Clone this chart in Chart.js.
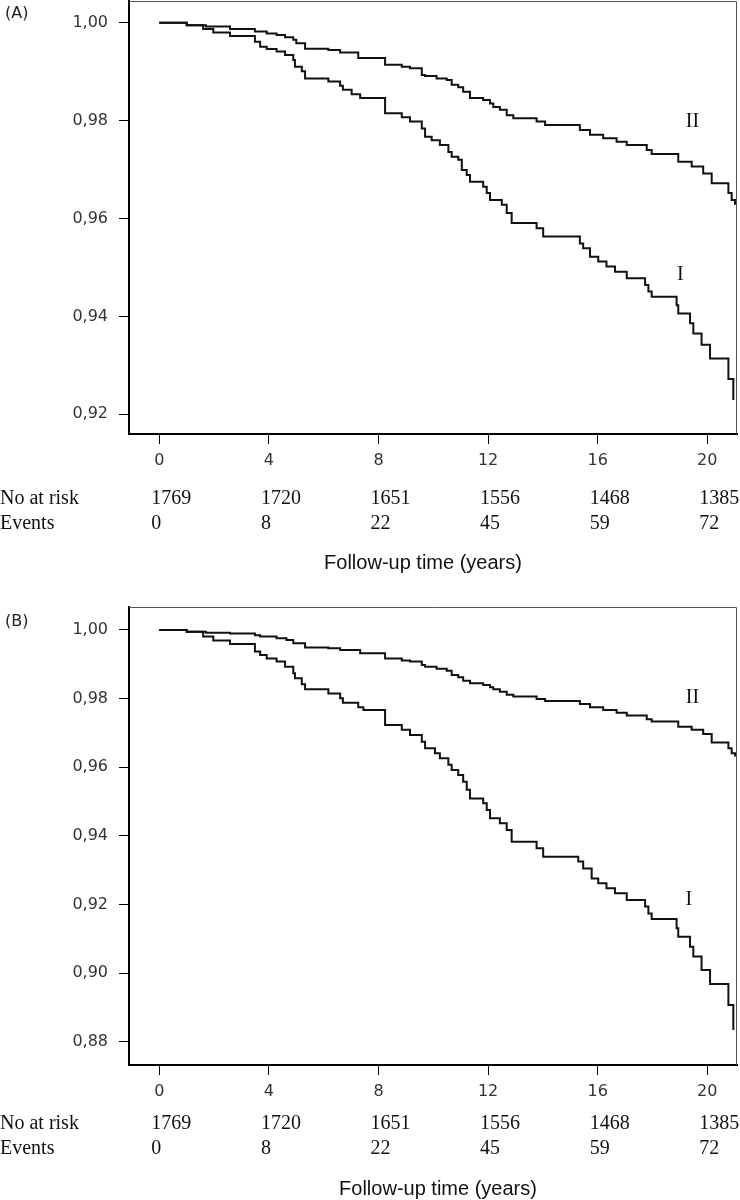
<!DOCTYPE html>
<html>
<head>
<meta charset="utf-8">
<script src="https://cdn.jsdelivr.net/npm/chart.js@4.4.1/dist/chart.umd.min.js"></script>
<style>
  body { margin: 0; background: #fff; }
  #wrap { width: 740px; height: 1200px; position: relative; }
  canvas { display: block; }
</style>
</head>
<body>
<div id="wrap">
  <canvas id="chartA" width="740" height="600"></canvas>
  <canvas id="chartB" width="740" height="600"></canvas>
</div>
<script>
// shared axis / table values
const xTicks = [0, 4, 8, 12, 16, 20];
const yTicksA = [0.92, 0.94, 0.96, 0.98, 1.00];
const yTicksB = [0.88, 0.90, 0.92, 0.94, 0.96, 0.98, 1.00];
const atRisk = [1769, 1720, 1651, 1556, 1468, 1385];
const events = [0, 8, 22, 45, 59, 72];

// (A) curve I - event times (years) and survival after each step
const timeA_I = [0, 1.0, 1.6, 1.97, 2.58, 3.49, 3.68, 3.92, 4.28, 4.59, 4.89, 4.95, 5.2, 5.32, 6.17, 6.6, 6.7, 7.02, 7.33, 8.24,
  8.85, 9.15, 9.58, 9.70, 9.94, 10.24, 10.55, 10.67, 10.91, 11.04, 11.22, 11.34, 11.82, 11.95, 12.07, 12.5, 12.68, 12.86, 13.77, 14.01,
  15.35, 15.47, 15.72, 16.02, 16.32, 16.63, 17.06, 17.73, 17.85, 17.97, 18.88, 18.94, 19.37, 19.49, 19.79, 20.1, 20.77, 20.95];
const survA_I = [1.0, 0.9995, 0.9987, 0.9980, 0.9973, 0.9961, 0.9951, 0.9946, 0.9941, 0.9934, 0.9924, 0.9910, 0.9901, 0.9886, 0.9880, 0.9871, 0.9863, 0.9854, 0.9846, 0.9815,
  0.9807, 0.9798, 0.9784, 0.9767, 0.9760, 0.9750, 0.9736, 0.9726, 0.9720, 0.9699, 0.9689, 0.9675, 0.9665, 0.9652, 0.9638, 0.9628, 0.9611, 0.9591, 0.9580, 0.9563,
  0.9549, 0.9539, 0.9522, 0.9512, 0.9502, 0.9491, 0.9478, 0.9464, 0.9451, 0.9440, 0.9423, 0.9406, 0.9386, 0.9365, 0.9342, 0.9314, 0.9272, 0.9229];

// (A) curve II
const timeA_II = [0, 1.0, 1.7, 2.58, 3.49, 3.92, 4.28, 4.59, 4.89, 5.0, 5.32, 6.17, 6.6, 7.26, 8.24, 8.85, 9.15, 9.58, 9.70, 10.12,
  10.49, 10.67, 10.91, 11.09, 11.34, 11.82, 12.07, 12.19, 12.43, 12.68, 12.92, 13.77, 14.08, 15.35, 15.72, 16.2, 16.69, 17.06, 17.79, 17.97,
  18.94, 19.43, 19.85, 20.16, 20.77, 20.89, 21.01];
const survA_II = [1.0, 0.9995, 0.9992, 0.9987, 0.9982, 0.9978, 0.9975, 0.9970, 0.9965, 0.9958, 0.9947, 0.9944, 0.9939, 0.9928, 0.9914, 0.9910, 0.9907, 0.9893, 0.9891, 0.9886,
  0.9883, 0.9873, 0.9868, 0.9859, 0.9846, 0.9842, 0.9835, 0.9828, 0.9822, 0.9811, 0.9805, 0.9798, 0.9791, 0.9781, 0.9771, 0.9764, 0.9757, 0.9750, 0.9740, 0.9732,
  0.9716, 0.9706, 0.9692, 0.9672, 0.9652, 0.9638, 0.9628];

// (B) curve I
const timeB_I = [0, 1.0, 1.6, 1.97, 2.58, 3.49, 3.68, 3.92, 4.28, 4.59, 4.89, 4.95, 5.2, 5.32, 6.17, 6.6, 6.7, 7.26, 7.45, 8.24,
  8.85, 9.15, 9.58, 9.70, 10.06, 10.24, 10.55, 10.67, 10.91, 11.09, 11.22, 11.34, 11.82, 11.95, 12.07, 12.43, 12.68, 12.86, 13.77, 14.01,
  15.29, 15.47, 15.78, 16.02, 16.32, 16.63, 17.06, 17.73, 17.85, 17.97, 18.88, 18.94, 19.37, 19.49, 19.79, 20.1, 20.77, 20.95];
const survB_I = [1.0, 0.9995, 0.9981, 0.9969, 0.9959, 0.9937, 0.9927, 0.9917, 0.9908, 0.9893, 0.9874, 0.9859, 0.9842, 0.9827, 0.9815, 0.9801, 0.9788, 0.9775, 0.9767, 0.9723,
  0.9709, 0.9694, 0.9674, 0.9655, 0.9641, 0.9626, 0.9607, 0.9592, 0.9577, 0.9558, 0.9534, 0.9509, 0.9495, 0.9475, 0.9451, 0.9437, 0.9417, 0.9383, 0.9364, 0.9339,
  0.9325, 0.9305, 0.9276, 0.9262, 0.9247, 0.9233, 0.9213, 0.9194, 0.9174, 0.9158, 0.9131, 0.9106, 0.9077, 0.9048, 0.9009, 0.8968, 0.8907, 0.8834];

// (B) curve II
const timeB_II = [0, 1.0, 1.7, 2.58, 3.49, 3.68, 4.28, 4.64, 4.89, 5.32, 6.17, 6.6, 7.33, 8.24, 8.85, 9.15, 9.58, 9.70, 10.12, 10.49,
  10.67, 10.91, 11.09, 11.34, 11.82, 12.07, 12.19, 12.43, 12.68, 12.92, 13.77, 14.08, 15.35, 15.72, 16.2, 16.69, 17.06, 17.79, 17.97, 18.94,
  19.43, 19.85, 20.16, 20.77, 20.89, 21.01];
const survB_II = [1.0, 0.9995, 0.9992, 0.9990, 0.9985, 0.9981, 0.9976, 0.9971, 0.9961, 0.9949, 0.9947, 0.9942, 0.9932, 0.9917, 0.9911, 0.9908, 0.9898, 0.9893, 0.9887, 0.9881,
  0.9869, 0.9862, 0.9852, 0.9845, 0.9840, 0.9833, 0.9827, 0.9820, 0.9811, 0.9806, 0.9799, 0.9793, 0.9784, 0.9775, 0.9767, 0.9759, 0.9751, 0.9740, 0.9733, 0.9718,
  0.9709, 0.9697, 0.9672, 0.9655, 0.9641, 0.9631];

const toPoints = (t, s) => t.map((v, i) => ({ x: v, y: s[i] }));

// layout of each panel (pixels are local to the panel canvas)
const panels = [
  {
    id: 'chartA', tag: '(A)', tagY: 14,
    areaTop: 1, areaBottom: 434,
    yMin: 0.91598, yMax: 1.00443, yTicks: yTicksA,
    curves: [[timeA_I, survA_I], [timeA_II, survA_II]],
    names: [{ text: 'II', x: 19.46, y: 0.9797 }, { text: 'I', x: 19.02, y: 0.9485 }],
    riskY: 499, eventY: 524, titleX: 423, titleY: 563
  },
  {
    id: 'chartB', tag: '(B)', tagY: 22,
    areaTop: 7, areaBottom: 465,
    yMin: 0.87321, yMax: 1.00670, yTicks: yTicksB,
    curves: [[timeB_I, survB_I], [timeB_II, survB_II]],
    names: [{ text: 'II', x: 19.46, y: 0.9802 }, { text: 'I', x: 19.33, y: 0.9213 }],
    riskY: 524, eventY: 549, titleX: 438, titleY: 589
  }
];

function textPlugin(p) {
  return {
    id: 'panelText',
    afterDraw(chart) {
      const { ctx, chartArea: a, scales: { x, y } } = chart;
      ctx.save();
      // thin top/right edge of the box
      ctx.strokeStyle = '#555';
      ctx.lineWidth = 1;
      ctx.beginPath();
      ctx.moveTo(a.left, a.top + 0.5);
      ctx.lineTo(a.right - 0.5, a.top + 0.5);
      ctx.lineTo(a.right - 0.5, a.bottom);
      ctx.stroke();

      ctx.fillStyle = '#222';
      ctx.textBaseline = 'middle';
      ctx.textAlign = 'left';
      ctx.font = '16px "DejaVu Sans"';
      ctx.fillText(p.tag, 5, p.tagY);

      ctx.fillStyle = '#111';
      ctx.font = '20px "Liberation Serif"';
      ctx.fillText('No at risk', 0, p.riskY);
      ctx.fillText('Events', 0, p.eventY);
      xTicks.forEach((t, i) => {
        const px = x.getPixelForValue(t) - 8;
        ctx.fillText(String(atRisk[i]), px, p.riskY);
        ctx.fillText(String(events[i]), px, p.eventY);
      });

      ctx.textAlign = 'center';
      p.names.forEach(n => ctx.fillText(n.text, x.getPixelForValue(n.x), y.getPixelForValue(n.y)));

      ctx.font = '20px "Liberation Sans"';
      ctx.fillText('Follow-up time (years)', p.titleX, p.titleY);
      ctx.restore();
    }
  };
}

panels.forEach(p => {
  const canvas = document.getElementById(p.id);
  new Chart(canvas, {
    type: 'line',
    data: {
      datasets: p.curves.map(c => ({
        data: toPoints(c[0], c[1]),
        stepped: true,
        borderColor: '#111',
        borderWidth: 2,
        pointRadius: 0,
        fill: false
      }))
    },
    options: {
      responsive: false,
      animation: false,
      events: [],
      layout: { padding: { top: p.areaTop, right: 3, left: 0, bottom: 0 } },
      plugins: { legend: { display: false }, tooltip: { enabled: false } },
      scales: {
        x: {
          type: 'linear',
          min: -1.106, max: 21.084,
          afterBuildTicks: s => { s.ticks = xTicks.map(v => ({ value: v })); },
          afterFit: s => {
            s.height = canvas.height - p.areaBottom;
            s.paddingLeft = s.paddingRight = 0;
          },
          grid: { drawOnChartArea: false, drawTicks: true, tickLength: 10, color: '#000', lineWidth: 1 },
          border: { display: true, color: '#000', width: 2 },
          ticks: {
            autoSkip: false, maxRotation: 0, padding: 7,
            color: '#333', font: { family: 'DejaVu Sans', size: 16 },
            callback: v => String(v)
          }
        },
        y: {
          type: 'linear',
          min: p.yMin, max: p.yMax,
          afterBuildTicks: s => { s.ticks = p.yTicks.map(v => ({ value: v })); },
          afterFit: s => {
            s.width = 129;
            s.paddingTop = s.paddingBottom = 0;
          },
          grid: { drawOnChartArea: false, drawTicks: true, tickLength: 10, color: '#000', lineWidth: 1 },
          border: { display: true, color: '#000', width: 2 },
          ticks: {
            padding: 11,
            color: '#333', font: { family: 'DejaVu Sans', size: 16 },
            callback: v => v.toFixed(2).replace('.', ',')
          }
        }
      }
    },
    plugins: [textPlugin(p)]
  });
});
</script>
</body>
</html>
